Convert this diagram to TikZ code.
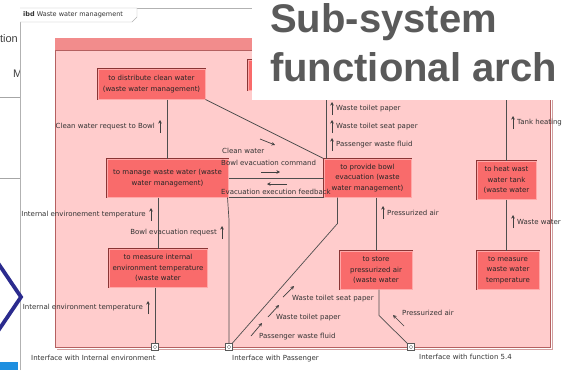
\documentclass[tikz,border=0pt]{standalone}
\usepackage{fontspec}
\setmainfont{DejaVu Sans}
\newfontfamily\titlefont{Liberation Sans}
\usetikzlibrary{arrows.meta}

\definecolor{framepink}{HTML}{FFCCCC}
\definecolor{headpink}{HTML}{F28C8C}
\definecolor{frameedge}{HTML}{B56060}
\definecolor{fnfill}{HTML}{F96B6B}
\definecolor{fnedge}{HTML}{8A3535}
\definecolor{fnlight}{HTML}{FFA8A8}
\definecolor{wire}{HTML}{4E4E4E}
\definecolor{titlegray}{HTML}{5A5A5A}
\definecolor{slideblue}{HTML}{2B2B8E}
\definecolor{barblue}{HTML}{1E8FE0}

\newcommand\boxfont{\fontsize{7}{10.5}\selectfont}
\newcommand\lblfont{\fontsize{7}{8}\selectfont}

\tikzset{
  fn/.style={preaction={draw=fnedge,line width=2pt}, draw=fnlight, line width=1pt,
    fill=fnfill, inner sep=0pt, align=center, font=\boxfont, text=black!85},
  lbl/.style={font=\lblfont, inner sep=0pt, text=black!80},
  wire/.style={draw=wire, line width=0.7pt},
  flow/.style={-{Stealth[length=3.5pt,width=3.5pt]}, line width=0.7pt, draw=black!75},
  port/.style={draw=gray!70!black, fill=white, minimum size=7pt, inner sep=0pt, line width=0.5pt,
    path picture={\draw[gray, line width=0.4pt] (path picture bounding box.center) circle (1.8pt);}},
  titletxt/.style={font=\titlefont\bfseries\fontsize{40}{44}\selectfont, text=titlegray, inner sep=0pt}
}

\begin{document}
\begin{tikzpicture}[x=1pt,y=-1pt]
    \useasboundingbox (0,0) rectangle (567,370);
    % slide behind the diagram
    \node[font=\titlefont\fontsize{11}{12}\selectfont, text=black!75, inner sep=0pt, anchor=base east] (tion) at (18,42) {tion};
    \begin{scope}
        \clip (0,60) rectangle (20,85);
        \node[font=\titlefont\fontsize{11}{12}\selectfont, text=black!75, inner sep=0pt, anchor=base west] (mtxt) at (13,77) {M};
    \end{scope}
    \draw[gray!70, line width=0.8pt] (0,97) -- (20,97) (0,178) -- (20,178);
    \fill[barblue] (0,362) rectangle (18,370);

    % ibd frame
    \fill[white] (20,8) rectangle (567,370);
    \draw[gray!60] (20,370) -- (20,8) -- (567,8);
    \draw[gray!60, fill=white] (20,8) -- (137,8) -- (137,17) -- (132,22) -- (20,22);
    \node[lbl, anchor=west, font=\fontsize{6.5}{7}\selectfont] (ibd) at (23,15) {\textbf{ibd} Waste water management};
    \draw[slideblue, line width=3.8pt] (-2,263) -- (21,297) -- (-2,331);

    % block
    \draw[frameedge!60, line width=0.6pt] (552,40) -- (552,349) -- (57,349);
    \draw[frameedge, fill=framepink, line width=0.7pt] (55,38) rectangle (550,347);
    \fill[headpink] (55.4,38.4) rectangle (549.6,50);
    \draw[frameedge, line width=0.6pt] (55,50) -- (550,50);
    \coordinate (topP) at (326,50);
    \coordinate (topH) at (506.5,50);

    % functions
    \node[fn, minimum width=107pt, minimum height=30pt] (distrib) at (151.5,84) {to distribute clean water\\(waste water management)};
    \node[fn, minimum width=52pt, minimum height=30pt] (blk) at (274,75) {};
    \node[fn, minimum width=121pt, minimum height=38pt] (manage) at (167.5,178) {to manage waste water (waste\\water management)};
    \node[fn, minimum width=87pt, minimum height=38pt] (provide) at (367.5,178) {to provide bowl\\evacuation (waste\\water management)};
    \node[fn, minimum width=59pt, minimum height=38pt] (heat) at (506.5,180) {to heat wast\\water tank\\(waste water};
    \node[fn, minimum width=98pt, minimum height=38pt] (measint) at (158,268) {to measure internal\\environment temperature\\(waste water};
    \node[fn, minimum width=72pt, minimum height=38pt] (store) at (376,270) {to store\\pressurized air\\(waste water};
    \node[fn, minimum width=62pt, minimum height=38pt] (measww) at (508,270) {to measure\\waste water\\temperature};

    % ports
    \node[port] (pInt) at (155,347) {};
    \node[port] (pPass) at (229,347) {};
    \node[port] (pFn) at (411,347) {};

    % connectors
    \draw[wire] (manage.north |- distrib.south) -- (manage.north);
    \draw[wire] (distrib.south east) -- (provide.north west);
    \draw[wire] (manage.east) -- (provide.west);
    \draw[wire] (manage.south east) -- (provide.south west);
    \draw[wire] (measint.north |- manage.south) -- (measint.north);
    \draw[wire] ([xshift=-1pt]manage.south east) -- (229,220) -- (pPass);
    \draw[wire] (pInt |- measint.south) -- (pInt);
    \draw[wire] ([xshift=14pt]provide.south west) -- ++(0,26) -- (pPass);
    \draw[wire] (store.north |- provide.south) -- (store.north);
    \draw[wire] ([xshift=3pt]store.south) -- ++(0,26) -- (pFn);
    \draw[wire] (topP) -- (topP |- provide.north);
    \draw[wire] (topH) -- (heat.north);
    \draw[wire] (heat.south) -- (heat.south |- measww.north);

    % flow labels
    \foreach \x/\y/\t [count=\k] in {336/109/Waste toilet paper, 336/127/Waste toilet seat paper,
        336/145/Passenger waste fluid, 517/123/Tank heating, 517/222/Waste water, 387/213/Pressurized air}{
        \node[lbl, anchor=west] (upr\k) at (\x,\y) {\t};
        \draw[flow] (\x-4,\y+6) -- (\x-4,\y-7);
    }
    \foreach \x/\y/\t [count=\k] in {155/127/Clean water request to Bowl, 146/215/Internal environement temperature,
        217/233/Bowl evacuation request, 143/308/Internal environment temperature}{
        \node[lbl, anchor=east] (upl\k) at (\x,\y) {\t};
        \draw[flow] (\x+5,\y+6) -- (\x+5,\y-7);
    }
    \node[lbl, anchor=west] (cw) at (222,151) {Clean water};
    \draw[flow] (260,139) -- (275,145);
    \node[lbl, anchor=west] (bec) at (221,163) {Bowl evacuation command};
    \draw[flow] (261,172) -- (280,172);
    \node[lbl, anchor=west] (eef) at (221,192) {Evacuation execution feedback};
    \draw[flow] (287,184) -- (267,184);
    \node[lbl, anchor=west] (pa) at (402,313) {Pressurized air};
    \draw[flow] (404,326) -- (393,315);
    \node[lbl, anchor=west] (wtsp) at (292,299) {Waste toilet seat paper};
    \draw[flow] (283,297) -- (294,286);
    \node[lbl, anchor=west] (wtp) at (276,318) {Waste toilet paper};
    \draw[flow] (268,317) -- (279,305);
    \node[lbl, anchor=west] (pwf) at (259,337) {Passenger waste fluid};
    \draw[flow] (251,336) -- (262,323);

    % port labels
    \node[lbl, anchor=west] (lInt) at (31,358) {Interface with Internal environment};
    \node[lbl, anchor=west] (lPass) at (232,359) {Interface with Passenger};
    \node[lbl, anchor=west] (lFn) at (419,357) {Interface with function 5.4};

    % title panel
    \fill[white] (252,0) rectangle (567,100);
    \node[titletxt, anchor=base west] (ttl1) at (270,32) {Sub-system};
    \node[titletxt, anchor=base west] (ttl2) at (270,81) {functional arch};
\end{tikzpicture}
\end{document}
